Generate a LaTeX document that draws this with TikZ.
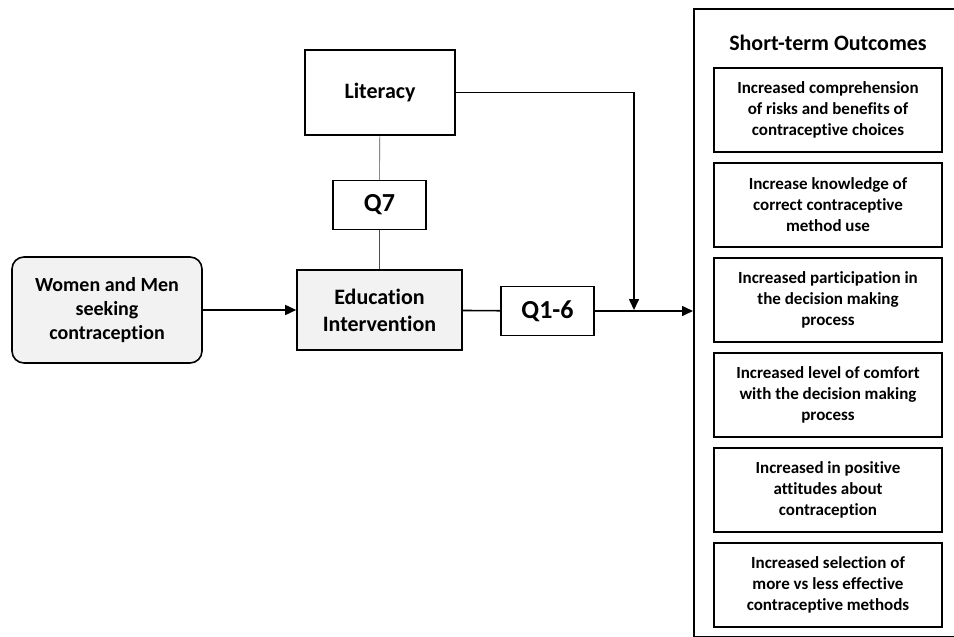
\documentclass[tikz,border=0pt]{standalone}
\usepackage{fontspec}
\setmainfont{Carlito}[Ligatures=NoCommon]
\usetikzlibrary{arrows.meta}

\begin{document}
\begin{tikzpicture}[x=1pt,y=-1pt,inner sep=2pt,line width=1.6pt,
				box/.style={draw,align=center,font=\bfseries},
				shaded/.style={box,fill=black!5},
				qbox/.style={box,line width=1.3pt,minimum width=93,minimum height=49,font=\bfseries\fontsize{26}{30}\selectfont},
				outcome/.style={box,minimum width=228,minimum height=84,font=\bfseries\fontsize{17}{21}\selectfont},
				thinline/.style={line width=0.6pt,black!70},
				tip/.style={-{Triangle[length=11pt,width=10pt]}}]
				
				\useasboundingbox (0,0) rectangle (954,637);
				\clip (0,0) rectangle (954,637);
				
				\node at (107,310) [shaded,rounded corners=12,minimum width=190,minimum height=106,font=\bfseries\fontsize{20}{24}\selectfont] (women) {Women and Men\\seeking\\contraception};
				\node at (379.5,310) [shaded,minimum width=165,minimum height=80,font=\bfseries\fontsize{22}{27}\selectfont] (edu) {Education\\Intervention};
				\node at (380,92.5) [box,minimum width=150,minimum height=85,font=\bfseries\fontsize{22}{27}\selectfont] (lit) {Literacy};
				\node at (379.5,205) [qbox] (q7) {Q7};
				\node at (547.5,311) [qbox] (q16) {Q1-6};
				
				\node at (693,8) [draw,anchor=north west,minimum width=300,minimum height=628,inner sep=0] (outc) {};
				\node at (828,43) [font=\bfseries\fontsize{22}{26}\selectfont] (title) {Short-term Outcomes};
				
				\foreach \t [count=\i] in {{Increased comprehension\\of risks and benefits of\\contraceptive choices},
					{Increase knowledge of\\correct contraceptive\\method use},
					{Increased participation in\\the decision making\\process},
					{Increased level of comfort\\with the decision making\\process},
					{Increased in positive\\attitudes about\\contraception},
					{Increased selection of\\more vs less effective\\contraceptive methods}}{
					\node at (828,15+95*\i) [outcome] (out\i) {\t};
				};
				
				\coordinate (join) at (634,310);
				
				\draw[tip] (women) -- (edu);
				\draw (edu) -- (q16);
				\draw[tip] (q16) -- (outc.west |- q16);
				\draw[tip] (lit.east) -| (join);
				\draw[thinline] (lit) -- (q7);
				\draw[thinline] (q7) -- (edu);
				
			\end{tikzpicture}
\end{document}
